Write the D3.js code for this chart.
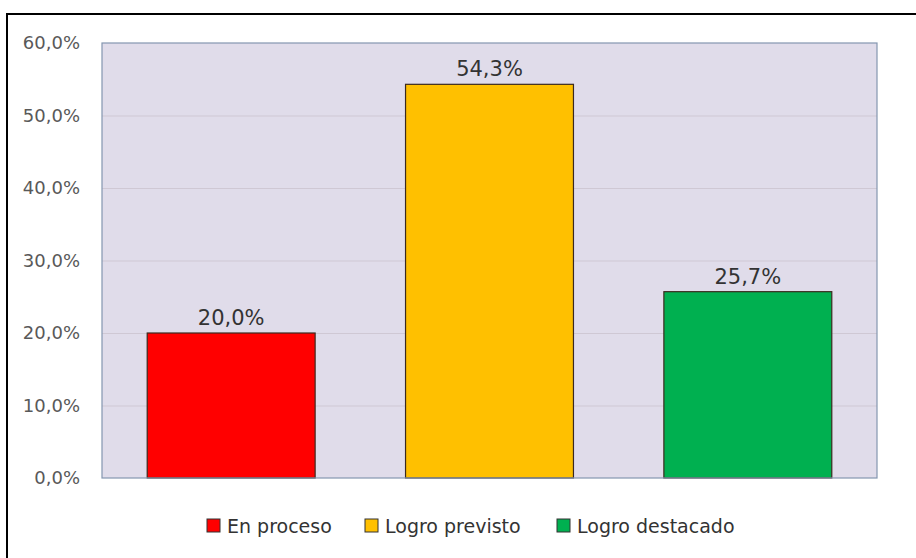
<!DOCTYPE html>
<html>
<head>
<meta charset="utf-8">
<script src="https://cdn.jsdelivr.net/npm/d3@7"></script>
<style>
  body { margin: 0; background: #fff; }
  svg { display: block; font-family: 'DejaVu Sans', Verdana, sans-serif; }
</style>
</head>
<body>
<div id="root"></div>
<script>
const categories = ['En proceso', 'Logro previsto', 'Logro destacado'];
const values = [20.0, 54.3, 25.7];
const colors = ['#ff0000', '#ffc000', '#00b050'];
const yTicks = [0, 10, 20, 30, 40, 50, 60];

const width = 916;
const height = 558;
const margin = { top: 43, right: 39, bottom: 80, left: 102 };
const graphWidth = width - margin.left - margin.right;
const graphHeight = height - margin.top - margin.bottom;

const fmt = (v) => v.toFixed(1).replace('.', ',') + '%';

const svg = d3.select('#root').append('svg')
  .attr('width', width)
  .attr('height', height);

// outer frame (cropped on right/bottom)
svg.append('rect')
  .attr('x', 7).attr('y', 14)
  .attr('width', 940).attr('height', 600)
  .attr('fill', '#fff')
  .attr('stroke', '#000')
  .attr('stroke-width', 2);

const graph = svg.append('g')
  .attr('transform', `translate(${margin.left},${margin.top})`);

const xScale = d3.scaleBand().domain(categories).range([0, graphWidth]).paddingInner(0.35).paddingOuter(0.175);
const yScale = d3.scaleLinear().domain([0, 60]).range([graphHeight, 0]);

// plot area
graph.append('rect')
  .attr('width', graphWidth)
  .attr('height', graphHeight)
  .attr('fill', '#e0dcea');

// gridlines
graph.selectAll('.grid')
  .data(yTicks.slice(1, -1))
  .enter()
  .append('line')
  .attr('x1', 0).attr('x2', graphWidth)
  .attr('y1', (d) => yScale(d) + 0.5)
  .attr('y2', (d) => yScale(d) + 0.5)
  .attr('stroke', '#cfc8d4')
  .attr('stroke-width', 1);

// y axis labels
const yAxis = d3.axisLeft(yScale).tickValues(yTicks).tickSize(0).tickPadding(22).tickFormat(fmt);
const yAxisGroup = graph.append('g').call(yAxis);
yAxisGroup.select('.domain').remove();
yAxisGroup.selectAll('text')
  .attr('fill', '#595959')
  .style('font-size', '18px')
  .style('font-family', "'DejaVu Sans', Verdana, sans-serif");

// bars
graph.selectAll('.bar')
  .data(values)
  .enter()
  .append('rect')
  .attr('x', (d, i) => xScale(categories[i]))
  .attr('y', (d) => yScale(d))
  .attr('width', xScale.bandwidth())
  .attr('height', (d) => graphHeight - yScale(d))
  .attr('fill', (d, i) => colors[i])
  .attr('stroke', '#3b2a1e')
  .attr('stroke-width', 1.2);

// data labels
graph.selectAll('.label')
  .data(values)
  .enter()
  .append('text')
  .attr('x', (d, i) => xScale(categories[i]) + xScale.bandwidth() / 2)
  .attr('y', (d) => yScale(d) - 8)
  .attr('text-anchor', 'middle')
  .attr('fill', '#333')
  .style('font-size', '21px')
  .text(fmt);

// plot border
graph.append('rect')
  .attr('width', graphWidth)
  .attr('height', graphHeight)
  .attr('fill', 'none')
  .attr('stroke', '#8496b0')
  .attr('stroke-width', 1.2);

// legend
const legendX = [207, 365, 557];
const legend = svg.append('g');
categories.forEach((c, i) => {
  const g = legend.append('g').attr('transform', `translate(${legendX[i]},519)`);
  g.append('rect')
    .attr('width', 13).attr('height', 13)
    .attr('fill', colors[i])
    .attr('stroke', '#333')
    .attr('stroke-width', 1);
  g.append('text')
    .attr('x', 20).attr('y', 14)
    .attr('fill', '#333')
    .style('font-size', '19px')
    .text(c);
});
</script>
</body>
</html>
